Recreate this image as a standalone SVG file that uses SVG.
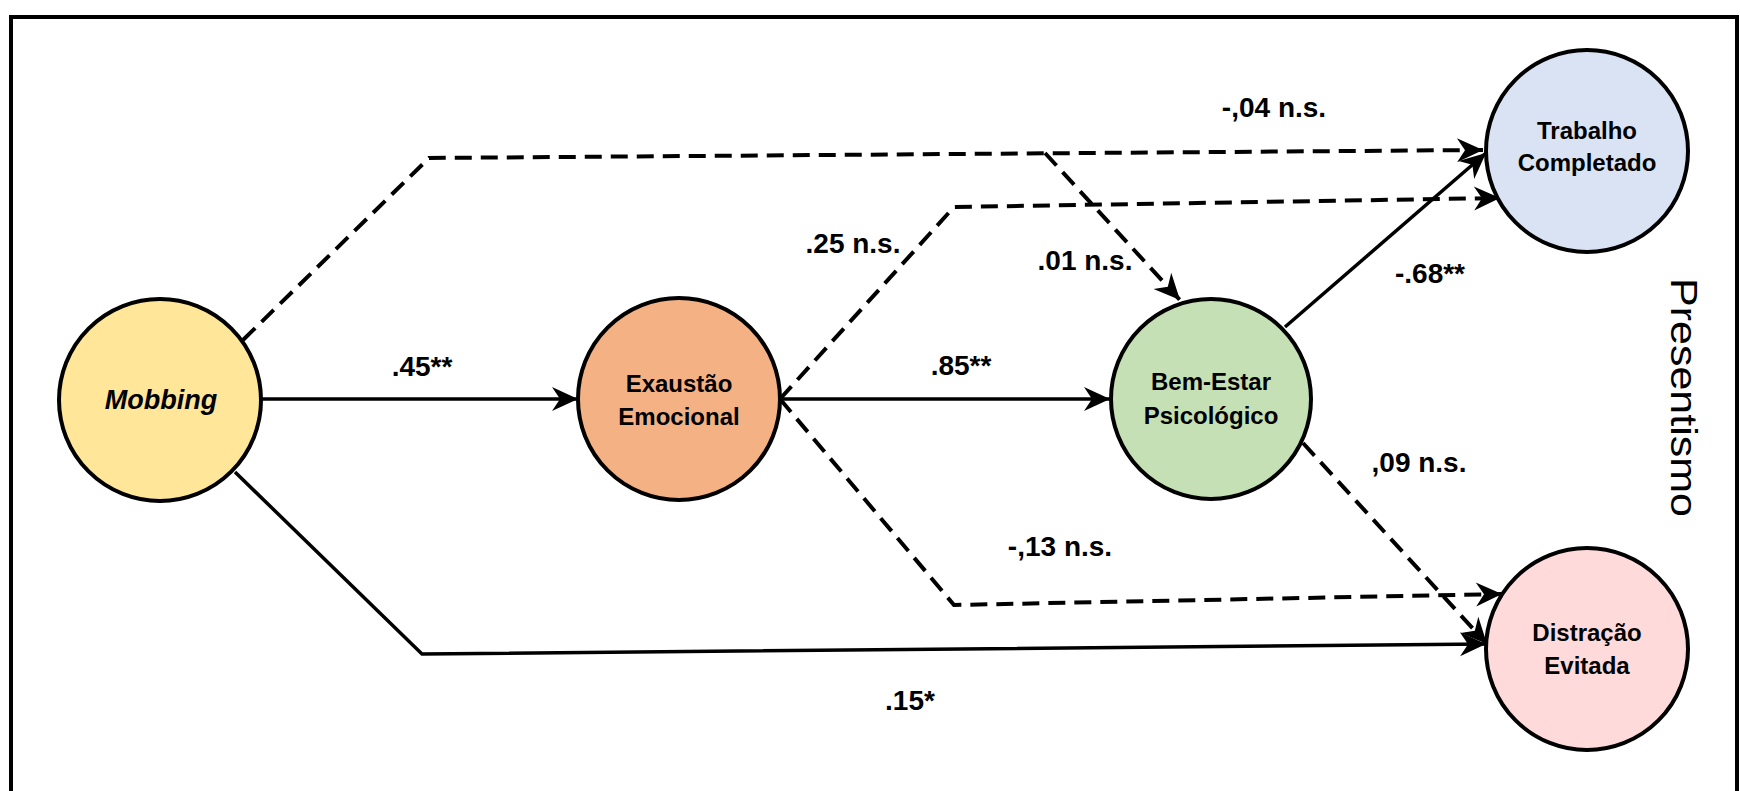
<svg xmlns="http://www.w3.org/2000/svg" width="1740" height="791" viewBox="0 0 1740 791">
<style>
.node{stroke:#000;stroke-width:4}
.nl{font-family:"Liberation Sans",Arial,sans-serif;font-weight:bold;font-size:24px;fill:#000;text-anchor:middle}
.el{font-family:"Liberation Sans",Arial,sans-serif;font-weight:bold;font-size:28px;fill:#000;text-anchor:middle}
.solid{fill:none;stroke:#000;stroke-width:3.5;marker-end:url(#arr)}
.dash{fill:none;stroke:#000;stroke-width:4;stroke-dasharray:17 9;marker-end:url(#arr)}
</style>
<defs>
<marker id="arr" markerUnits="userSpaceOnUse" viewBox="-2 -14 30 28" markerWidth="30" markerHeight="28" refX="26" refY="0" orient="auto">
<path d="M0,-12 L26,0 L0,12 L8,0 Z" fill="#000"/>
</marker>
</defs>
<rect x="11" y="17" width="1726" height="780" fill="#fff" stroke="#000" stroke-width="4"/>
<g id="connectors">
<path class="solid" d="M261,399 L578,399"/>
<path class="solid" d="M780,399 L1110,399"/>
<path class="dash" d="M243,340 L429,158 L1483,150"/>
<path class="dash" d="M1045,153 L1180,300"/>
<path class="dash" d="M780,399 L954,207 L1500,198"/>
<path class="dash" d="M780,399 L954,605 L1502,594"/>
<path class="solid" d="M1285,327 L1486,153"/>
<path class="dash" d="M1303,443 L1487,644"/>
<path class="solid" d="M235,472 L422,654 L1486,644"/>
</g>
<g id="labels">
<text class="el" x="422" y="376">.45**</text>
<text class="el" x="961" y="375">.85**</text>
<text class="el" x="1274" y="117">-,04 n.s.</text>
<text class="el" x="853" y="253">.25 n.s.</text>
<text class="el" x="1085" y="270">.01 n.s.</text>
<text class="el" x="1430" y="283">-.68**</text>
<text class="el" x="1419" y="472">,09 n.s.</text>
<text class="el" x="1060" y="556">-,13 n.s.</text>
<text class="el" x="910" y="710">.15*</text>
</g>
<g id="mobbing">
<circle class="node" cx="160" cy="400" r="101" fill="#FFE699"/>
<text class="nl" x="161" y="409" style="font-style:italic;font-size:27px">Mobbing</text>
</g>
<g id="exaustao">
<circle class="node" cx="679" cy="399" r="101" fill="#F4B183"/>
<text class="nl" x="679" y="392">Exaustão</text>
<text class="nl" x="679" y="425">Emocional</text>
</g>
<g id="bemestar">
<circle class="node" cx="1211" cy="399" r="100" fill="#C5E0B4"/>
<text class="nl" x="1211" y="390">Bem-Estar</text>
<text class="nl" x="1211" y="424">Psicológico</text>
</g>
<g id="trabalho">
<circle class="node" cx="1587" cy="151" r="101" fill="#DAE3F3"/>
<text class="nl" x="1587" y="139">Trabalho</text>
<text class="nl" x="1587" y="171">Completado</text>
</g>
<g id="distracao">
<circle class="node" cx="1587" cy="649" r="101" fill="#FFDADA"/>
<text class="nl" x="1587" y="641">Distração</text>
<text class="nl" x="1587" y="674">Evitada</text>
</g>
<g id="presentismo">
<text transform="translate(1671,397.5) rotate(90)" text-anchor="middle" textLength="239" lengthAdjust="spacingAndGlyphs" style="font-family:'Liberation Sans',Arial,sans-serif;font-size:36px;fill:#000">Presentismo</text>
</g>
</svg>
